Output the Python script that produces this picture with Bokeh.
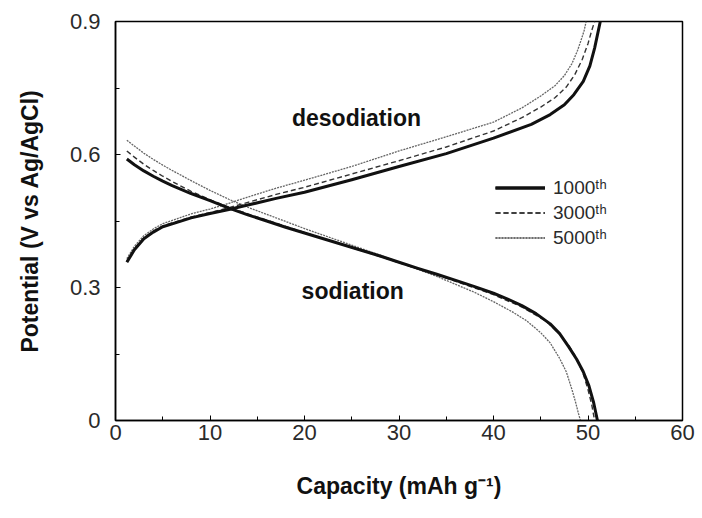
from bokeh.plotting import figure
from bokeh.models import Range1d, FixedTicker, Legend, LegendItem, Label
from bokeh.embed import file_html
from bokeh.resources import INLINE

# Galvanostatic profiles: capacity (mAh/g) vs potential (V vs Ag/AgCl)
cycle_names = ["1000ᵗʰ", "3000ᵗʰ", "5000ᵗʰ"]

# sodiation (discharge) branches
sod_cap_1000 = [1.2, 2, 3, 4, 5, 6, 7, 8, 10, 12, 14, 16, 18, 20, 22, 24, 26, 28, 30, 32,
                34, 36, 38, 40, 41.5, 43, 44.5, 46, 47, 48, 48.8, 49.5, 50.1, 50.6, 51.0]
sod_pot_1000 = [0.590, 0.577, 0.563, 0.551, 0.540, 0.530, 0.521, 0.512, 0.496, 0.479, 0.464,
                0.450, 0.436, 0.423, 0.410, 0.397, 0.384, 0.371, 0.357, 0.343, 0.330, 0.316,
                0.302, 0.287, 0.274, 0.259, 0.241, 0.218, 0.196, 0.165, 0.138, 0.110, 0.078,
                0.040, 0.0]

sod_cap_3000 = [1.2, 2, 3, 4, 5, 6, 8, 10, 12, 14, 16, 18, 20, 24, 28, 32, 36, 40, 43, 45.5,
                47, 48, 48.8, 49.5, 50.0, 50.4, 50.7]
sod_pot_3000 = [0.608, 0.594, 0.578, 0.564, 0.551, 0.539, 0.517, 0.498, 0.481, 0.466, 0.452,
                0.438, 0.424, 0.397, 0.370, 0.342, 0.314, 0.284, 0.256, 0.225, 0.195, 0.168,
                0.140, 0.105, 0.070, 0.035, 0.0]

sod_cap_5000 = [1.2, 2, 3, 4, 5, 6, 8, 10, 12, 14, 16, 18, 20, 22, 24, 26, 28, 30, 32, 34, 36,
                38, 40, 42, 43.5, 45, 46, 47, 47.7, 48.3, 48.7, 49.0, 49.2]
sod_pot_5000 = [0.632, 0.619, 0.603, 0.589, 0.576, 0.564, 0.541, 0.519, 0.499, 0.481, 0.465,
                0.449, 0.433, 0.418, 0.403, 0.388, 0.373, 0.357, 0.341, 0.325, 0.307, 0.289,
                0.268, 0.245, 0.225, 0.198, 0.175, 0.140, 0.110, 0.070, 0.040, 0.015, 0.0]

# desodiation (charge) branches
des_cap_1000 = [1.2, 2, 3, 4, 5, 6.5, 8, 10, 12, 14, 17, 20, 25, 30, 35, 40, 44, 46, 47.5,
                48.5, 49.5, 50.2, 50.7, 51.1, 51.3]
des_pot_1000 = [0.357, 0.385, 0.410, 0.425, 0.437, 0.447, 0.457, 0.467, 0.476, 0.486, 0.501,
                0.515, 0.543, 0.573, 0.602, 0.637, 0.668, 0.690, 0.712, 0.735, 0.765, 0.800,
                0.840, 0.880, 0.900]

des_cap_3000 = [1.2, 2, 3, 4, 5, 6.5, 8, 10, 12, 14, 17, 20, 25, 30, 35, 40, 43, 45, 46.5,
                47.7, 48.6, 49.4, 50.0, 50.4, 50.7]
des_pot_3000 = [0.360, 0.388, 0.412, 0.427, 0.439, 0.449, 0.459, 0.469, 0.480, 0.492, 0.510,
                0.526, 0.556, 0.586, 0.617, 0.653, 0.683, 0.707, 0.728, 0.752, 0.780, 0.815,
                0.850, 0.880, 0.900]

des_cap_5000 = [1.2, 2, 3, 4, 5, 6.5, 8, 10, 12, 14, 17, 20, 25, 30, 35, 40, 43, 45, 46.5,
                47.5, 48.3, 48.9, 49.3, 49.6, 49.8]
des_pot_5000 = [0.365, 0.393, 0.417, 0.432, 0.444, 0.455, 0.466, 0.477, 0.490, 0.504, 0.524,
                0.542, 0.573, 0.608, 0.640, 0.673, 0.705, 0.732, 0.755, 0.778, 0.805, 0.835,
                0.860, 0.880, 0.900]

x_ticks = [0, 10, 20, 30, 40, 50, 60]
x_minor = [5, 15, 25, 35, 45, 55]
y_ticks = [0, 0.3, 0.6, 0.9]
y_tick_labels = ["0", "0.3", "0.6", "0.9"]
y_minor = [0.15, 0.45, 0.75]

FONT = "Liberation Sans"

p = figure(width=702, height=518, output_backend="svg", toolbar_location=None,
           x_range=Range1d(0, 60), y_range=Range1d(0, 0.9),
           min_border_left=115, min_border_right=20, min_border_top=21,
           min_border_bottom=98)
p.background_fill_color = "white"
p.border_fill_color = "white"
p.outline_line_color = "black"
p.outline_line_width = 1.5
p.grid.visible = False

for ax in (p.xaxis[0], p.yaxis[0]):
    ax.axis_line_color = "black"
    ax.axis_line_width = 1.5
    ax.major_tick_in = 5
    ax.major_tick_out = 0
    ax.minor_tick_in = 4
    ax.minor_tick_out = 0
    ax.major_tick_line_color = "black"
    ax.minor_tick_line_color = "black"
    ax.major_label_text_font = FONT
    ax.major_label_text_font_size = "22px"
    ax.major_label_text_color = "#2a2a2a"
    ax.axis_label_text_font = FONT
    ax.axis_label_text_font_style = "bold"
    ax.axis_label_text_font_size = "23px"
    ax.axis_label_text_color = "#111111"

p.xaxis[0].ticker = FixedTicker(ticks=x_ticks, minor_ticks=x_minor)
p.yaxis[0].ticker = FixedTicker(ticks=y_ticks, minor_ticks=y_minor)
p.yaxis[0].major_label_overrides = {t: s for t, s in zip(y_ticks, y_tick_labels)}
p.xaxis[0].major_label_standoff = 4
p.yaxis[0].major_label_standoff = 15
p.xaxis[0].axis_label = "Capacity (mAh g⁻¹)"
p.yaxis[0].axis_label = "Potential (V vs Ag/AgCl)"
p.xaxis[0].axis_label_standoff = 30
p.yaxis[0].axis_label_standoff = 24

styles = [
    dict(line_color="#111111", line_width=3.0, line_dash="solid"),
    dict(line_color="#333333", line_width=1.4, line_dash="5 3"),
    dict(line_color="#666666", line_width=1.3, line_dash="2 1"),
]
branches = [
    (sod_cap_1000, sod_pot_1000, des_cap_1000, des_pot_1000),
    (sod_cap_3000, sod_pot_3000, des_cap_3000, des_pot_3000),
    (sod_cap_5000, sod_pot_5000, des_cap_5000, des_pot_5000),
]

items = []
for name, st, (sc, sp, dc, dp) in reversed(list(zip(cycle_names, styles, branches))):
    r1 = p.line(sc, sp, line_join="round", **st)
    r2 = p.line(dc, dp, line_join="round", **st)
    items.insert(0, LegendItem(label=name, renderers=[r1, r2]))

legend = Legend(items=items, location=(380, 170), orientation="vertical",
                glyph_width=50, glyph_height=25, label_height=25, spacing=0,
                padding=0, margin=0, label_standoff=8,
                label_text_font=FONT, label_text_font_size="19px",
                label_text_color="#2a2a2a",
                background_fill_alpha=0, border_line_alpha=0)
p.add_layout(legend, "center")

p.add_layout(Label(x=25.5, y=0.682, text="desodiation", text_align="center",
                   text_baseline="middle", text_font=FONT, text_font_style="bold",
                   text_font_size="23px", text_color="#111111"))
p.add_layout(Label(x=25.1, y=0.293, text="sodiation", text_align="center",
                   text_baseline="middle", text_font=FONT, text_font_style="bold",
                   text_font_size="23px", text_color="#111111"))

open("out.html", "w").write(file_html(p, INLINE))
